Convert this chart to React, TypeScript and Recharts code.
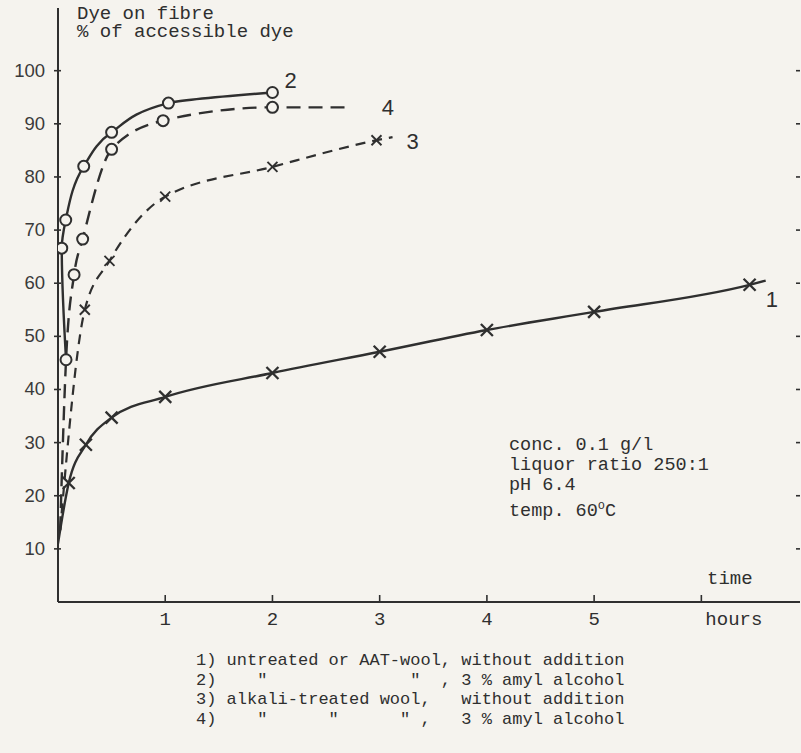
import React from 'react';
import { LineChart, Line, XAxis, YAxis } from 'recharts';

const INK = '#2f2f2f';
const BG = '#f5f3ee';
const MONO = '"Liberation Mono", "DejaVu Sans Mono", monospace';
const SANS = '"Liberation Sans", Arial, sans-serif';

// time axis (hours) and dye axis (% of accessible dye)
const hourTicks = [1, 2, 3, 4, 5, 6];
const hourLabels = ['1', '2', '3', '4', '5', 'hours'];
const pctTicks = [10, 20, 30, 40, 50, 60, 70, 80, 90, 100];

// m = marker drawn at that point
const curve1 = [
  { t: 0, v: 11, m: false },
  { t: 0.1, v: 22.4, m: true },
  { t: 0.26, v: 29.6, m: true },
  { t: 0.5, v: 34.7, m: true },
  { t: 1, v: 38.6, m: true },
  { t: 2, v: 43.1, m: true },
  { t: 3, v: 47.1, m: true },
  { t: 4, v: 51.2, m: true },
  { t: 5, v: 54.6, m: true },
  { t: 6.45, v: 59.7, m: true },
  { t: 6.6, v: 60.5, m: false },
];

const curve2 = [
  { t: 0.075, v: 45.6, m: true },
  { t: 0.035, v: 66.6, m: true },
  { t: 0.072, v: 71.9, m: true },
  { t: 0.24, v: 82, m: true },
  { t: 0.5, v: 88.4, m: true },
  { t: 1.03, v: 93.9, m: true },
  { t: 2, v: 95.9, m: true },
];

const curve3 = [
  { t: 0.02, v: 13.5, m: false },
  { t: 0.25, v: 55, m: true },
  { t: 0.48, v: 64.2, m: true },
  { t: 1, v: 76.3, m: true },
  { t: 2, v: 81.9, m: true },
  { t: 2.97, v: 86.9, m: true },
  { t: 3.12, v: 87.5, m: false },
];

const curve4 = [
  { t: 0.02, v: 13.5, m: false },
  { t: 0.075, v: 45.6, m: false },
  { t: 0.15, v: 61.6, m: true },
  { t: 0.23, v: 68.3, m: true },
  { t: 0.5, v: 85.2, m: true },
  { t: 0.98, v: 90.6, m: true },
  { t: 2, v: 93.1, m: true },
  { t: 2.74, v: 93.1, m: false },
];

const legendLines = [
  '1) untreated or AAT-wool, without addition',
  '2)    "              "  , 3 % amyl alcohol',
  '3) alkali-treated wool,   without addition',
  '4)    "      "      " ,   3 % amyl alcohol',
];

const conditions = ['conc. 0.1 g/l', 'liquor ratio 250:1', 'pH 6.4'];

function CircleDot(props: any) {
  const { cx, cy, payload, index } = props;
  if (!payload?.m || cx == null) return <g key={`c-${index}`} />;
  return <circle key={`c-${index}`} cx={cx} cy={cy} r={5.5} fill={BG} stroke={INK} strokeWidth={2} />;
}

function makeCross(size: number, width: number) {
  return (props: any) => {
    const { cx, cy, payload, index } = props;
    if (!payload?.m || cx == null) return <g key={`x-${index}`} />;
    return (
      <g key={`x-${index}`} stroke={INK} strokeWidth={width}>
        <line x1={cx - size} y1={cy - size} x2={cx + size} y2={cy + size} />
        <line x1={cx - size} y1={cy + size} x2={cx + size} y2={cy - size} />
      </g>
    );
  };
}

const BigCross = makeCross(6, 2.3);
const SmallCross = makeCross(5, 1.9);

// number written next to the last point of a curve
function curveLabel(text: string, count: number, dx: number, dy: number) {
  return (props: any) => {
    const { x, y, index } = props;
    if (index !== count - 1) return <g key={`l-${index}`} />;
    return (
      <text key={`l-${index}`} x={x + dx} y={y + dy} fontFamily={SANS} fontSize={22} fill={INK}>
        {text}
      </text>
    );
  };
}

function BottomTick(props: any) {
  const { x, y, payload, index } = props;
  const last = index === hourTicks.length - 1;
  return (
    <g>
      <line x1={x} y1={y} x2={x} y2={y - 7} stroke={INK} strokeWidth={1.6} />
      <text
        x={last ? x + 4 : x} y={y + 23} textAnchor={last ? 'start' : 'middle'}
        fontFamily={MONO} fontSize={19} fill={INK}
      >
        {hourLabels[index] ?? payload.value}
      </text>
    </g>
  );
}

function TopTick(props: any) {
  const { x, y } = props;
  return <line x1={x} y1={y} x2={x} y2={y + 7} stroke={INK} strokeWidth={1.6} />;
}

function LeftTick(props: any) {
  const { x, y, payload } = props;
  return (
    <g>
      <line x1={x - 4} y1={y} x2={x + 3} y2={y} stroke={INK} strokeWidth={1.6} />
      <text x={x - 13} y={y + 6} textAnchor="end" fontFamily={SANS} fontSize={18.5} fill="#3a3a3a">
        {payload.value}
      </text>
    </g>
  );
}

function RightTick(props: any) {
  const { x, y } = props;
  return <line x1={x - 4} y1={y} x2={x} y2={y} stroke={INK} strokeWidth={1.6} />;
}

export default function App() {
  const mono: React.CSSProperties = {
    position: 'absolute', fontFamily: MONO, color: INK, whiteSpace: 'pre',
  };
  return (
    <div style={{ position: 'absolute', left: 0, top: 0, width: 801, height: 753, background: BG, overflow: 'hidden' }}>
      <LineChart width={801} height={753} margin={{ top: 8, right: 0, bottom: 111, left: 0 }}>
        <XAxis
          xAxisId="b" type="number" dataKey="t" domain={[0, 6.92]} ticks={hourTicks}
          allowDataOverflow height={40} tickSize={0} tickMargin={0} tickLine={false}
          axisLine={{ stroke: INK, strokeWidth: 2 }} tick={<BottomTick />} interval={0}
        />
        <XAxis
          xAxisId="t" orientation="top" type="number" dataKey="t" domain={[0, 6.92]} ticks={hourTicks}
          allowDataOverflow height={0} tickSize={0} tickMargin={0} tickLine={false}
          axisLine={{ stroke: INK, strokeWidth: 2 }} tick={<TopTick />} interval={0}
        />
        <YAxis
          yAxisId="l" type="number" domain={[0, 111.8]} ticks={pctTicks} allowDataOverflow
          width={58} tickSize={0} tickMargin={0} tickLine={false}
          axisLine={{ stroke: INK, strokeWidth: 2 }} tick={<LeftTick />} interval={0}
        />
        <YAxis
          yAxisId="r" orientation="right" type="number" domain={[0, 111.8]} ticks={pctTicks} allowDataOverflow
          width={1} tickSize={0} tickMargin={0} tickLine={false} axisLine={false}
          tick={<RightTick />} interval={0}
        />
        <Line
          xAxisId="b" yAxisId="l" data={curve1} dataKey="v" type="monotone" stroke={INK} strokeWidth={2.4}
          dot={BigCross} activeDot={false} isAnimationActive={false}
          label={curveLabel('1', curve1.length, 0, 26)}
        />
        <Line
          xAxisId="b" yAxisId="l" data={curve2} dataKey="v" type="monotoneY" stroke={INK} strokeWidth={2.4}
          dot={CircleDot} activeDot={false} isAnimationActive={false}
          label={curveLabel('2', curve2.length, 12, -4)}
        />
        <Line
          xAxisId="b" yAxisId="l" data={curve3} dataKey="v" type="monotone" stroke={INK} strokeWidth={2.2}
          strokeDasharray="10 7" dot={SmallCross} activeDot={false} isAnimationActive={false}
          label={curveLabel('3', curve3.length, 14, 12)}
        />
        <Line
          xAxisId="b" yAxisId="l" data={curve4} dataKey="v" type="monotone" stroke={INK} strokeWidth={2.4}
          strokeDasharray="14 8" dot={CircleDot} activeDot={false} isAnimationActive={false}
          label={curveLabel('4', curve4.length, 30, 8)}
        />
      </LineChart>

      <div style={{ ...mono, left: 77, top: 5, fontSize: 19, lineHeight: '18px' }}>
        {'Dye on fibre\n% of accessible dye'}
      </div>

      <div style={{ ...mono, left: 509, top: 436, fontSize: 18.5, lineHeight: '20px' }}>
        {conditions.map((c) => <div key={c}>{c}</div>)}
        <div>temp. 60<span style={{ fontSize: 12, verticalAlign: 7 }}>o</span>C</div>
      </div>

      <div style={{ ...mono, left: 707, top: 568, fontSize: 19 }}>time</div>

      <div style={{ ...mono, left: 196, top: 651, fontSize: 17, lineHeight: '19.5px' }}>
        {legendLines.map((l) => <div key={l}>{l}</div>)}
      </div>
    </div>
  );
}
